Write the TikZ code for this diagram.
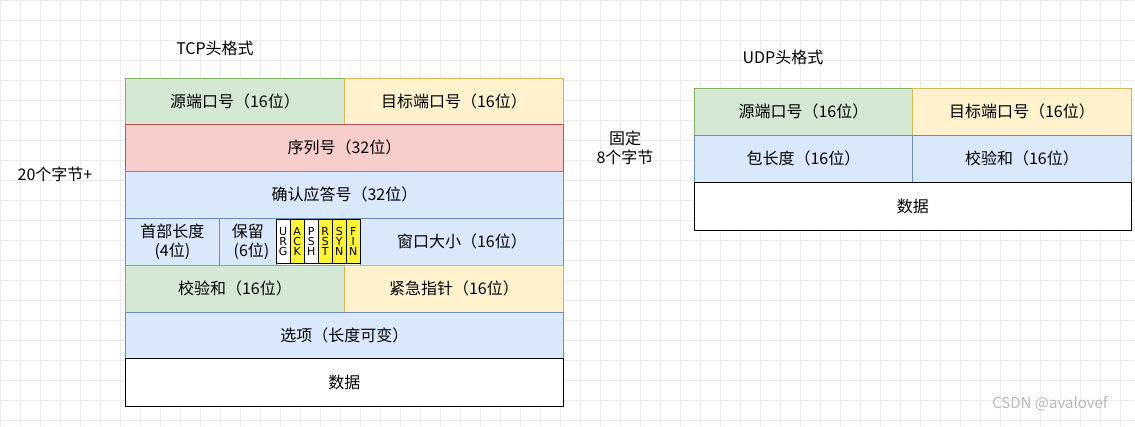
\documentclass[tikz,border=0pt]{standalone}
\usepackage{fontspec}
\setmainfont{Noto Sans CJK SC}
\newfontfamily\latinf{DejaVu Sans}
\newcommand{\flagtxt}[3]{\shortstack{#1\\[-1pt]#2\\[-1pt]#3}}
\begin{document}
\begin{tikzpicture}[x=1pt,y=-1pt,
 cell/.style={draw, line width=0.8pt, inner sep=0pt, font=\fontsize{16}{19}\selectfont},
 gr/.style={fill={rgb,255:red,213;green,232;blue,212}, draw={rgb,255:red,130;green,179;blue,102}},
 ye/.style={fill={rgb,255:red,255;green,242;blue,204}, draw={rgb,255:red,214;green,182;blue,86}},
 re/.style={fill={rgb,255:red,248;green,206;blue,204}, draw={rgb,255:red,184;green,84;blue,80}},
 bl/.style={fill={rgb,255:red,218;green,232;blue,252}, draw={rgb,255:red,108;green,142;blue,191}},
 wh/.style={fill=white, draw=black},
 flag/.style={draw=black, line width=0.5pt, font=\latinf\fontsize{11}{12}\selectfont, inner sep=0pt, minimum width=14, minimum height=44, anchor=north west},
 lbl/.style={font=\fontsize{16}{19}\selectfont, align=center}]
\useasboundingbox (0,0) rectangle (1135,426);
\fill[white] (0,0) rectangle (1135,426);
\draw[gray!15, line width=0.5pt] (0,0) grid[step=20] (1135,426);
\foreach \y in {0,20,...,420} \draw[gray!15, line width=0.5pt] (0,\y) -- (1135,\y);
% TCP
\node[lbl] (tt) at (215,48) {TCP头格式};
\node[cell,gr,minimum width=219,minimum height=47,anchor=north west] (a1) at (125,78) {源端口号（16位）};
\node[cell,ye,minimum width=219,minimum height=47,anchor=north west] (a2) at (344,78) {目标端口号（16位）};
\node[cell,re,minimum width=438,minimum height=47,anchor=north west] (b) at (125,124) {序列号（32位）};
\node[cell,bl,minimum width=438,minimum height=47,anchor=north west] (c) at (125,171) {确认应答号（32位）};
\node[cell,bl,minimum width=94,minimum height=47,anchor=north west,align=center] (d1) at (125,218) {首部长度\\(4位)};
\node[cell,bl,minimum width=57,minimum height=47,anchor=north west,align=center] (d2) at (219,218) {保留\\\ \ (6位)};
\node[cell,bl,minimum width=203,minimum height=47,anchor=north west] (d4) at (360,218) {窗口大小（16位）};
\node[flag,fill=white] (f0) at (276,219) {\flagtxt URG};
\node[flag,fill=yellow!80!white] (f1) at (290,219) {\flagtxt ACK};
\node[flag,fill=white] (f2) at (304,219) {\flagtxt PSH};
\node[flag,fill=yellow!80!white] (f3) at (318,219) {\flagtxt RST};
\node[flag,fill=yellow!80!white] (f4) at (332,219) {\flagtxt SYN};
\node[flag,fill=yellow!80!white] (f5) at (346,219) {\flagtxt FIN};
\node[cell,gr,minimum width=219,minimum height=47,anchor=north west] (e1) at (125,265) {校验和（16位）};
\node[cell,ye,minimum width=219,minimum height=47,anchor=north west] (e2) at (344,265) {紧急指针（16位）};
\node[cell,bl,minimum width=438,minimum height=46,anchor=north west] (g) at (125,312) {选项（长度可变）};
\node[cell,wh,minimum width=438,minimum height=48,anchor=north west] (h) at (125,358) {数据};
\node[lbl] (l20) at (55,174) {20个字节+};
\node[lbl] (lfix) at (625,148) {固定\\8个字节};
% UDP
\node[lbl] (ut) at (783,57) {UDP头格式};
\node[cell,gr,minimum width=218,minimum height=47,anchor=north west] (u1) at (694,88) {源端口号（16位）};
\node[cell,ye,minimum width=219,minimum height=47,anchor=north west] (u2) at (912,88) {目标端口号（16位）};
\node[cell,bl,minimum width=218,minimum height=47,anchor=north west] (u3) at (694,135) {包长度（16位）};
\node[cell,bl,minimum width=219,minimum height=47,anchor=north west] (u4) at (912,135) {校验和（16位）};
\node[cell,wh,minimum width=437,minimum height=48,anchor=north west] (u5) at (694,182) {数据};
\node[font=\fontsize{15}{18}\selectfont, text=gray!55] (wm) at (1050,404) {CSDN @avalovef};
\end{tikzpicture}
\end{document}
